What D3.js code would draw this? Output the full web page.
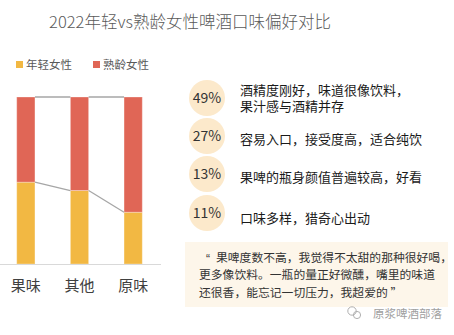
<!DOCTYPE html>
<html>
<head>
<meta charset="utf-8">
<script src="https://cdn.jsdelivr.net/npm/d3@7"></script>
<style>
  html, body { margin: 0; padding: 0; background: #fff; }
  svg { display: block; font-family: "Noto Sans CJK SC", "Noto Sans", sans-serif; }
</style>
</head>
<body>
<svg id="chart" width="454" height="335"></svg>
<script>
// Stacked 100% columns: share of young vs mature women by flavour
const categories = ["果味", "其他", "原味"];
const youngShare = [0.49, 0.44, 0.31];
const matureShare = [0.51, 0.56, 0.69];
const seriesNames = ["年轻女性", "熟龄女性"];
const seriesColors = ["#F2B843", "#E06656"];

// Reasons panel
const reasonPct = ["49%", "27%", "13%", "11%"];
const reasonLines = [
  ["酒精度刚好，味道很像饮料，", "果汁感与酒精并存"],
  ["容易入口，接受度高，适合纯饮"],
  ["果啤的瓶身颜值普遍较高，好看"],
  ["口味多样，猎奇心出动"]
];
const quoteOpen = "“";
const quoteLines = [
  "果啤度数不高，我觉得不太甜的那种很好喝，",
  "更多像饮料。一瓶的量正好微醺，嘴里的味道",
  "还很香，能忘记一切压力，我超爱的 ”"
];
const titleText = "2022年轻vs熟龄女性啤酒口味偏好对比";
const sourceText = "原浆啤酒部落";

const svg = d3.select("#chart");

// Title
svg.append("text")
  .attr("x", 190).attr("y", 28)
  .attr("text-anchor", "middle")
  .attr("font-size", 16.5)
  .attr("font-weight", 300)
  .attr("fill", "#595959")
  .text(titleText);

// Legend
const legend = svg.append("g");
const legendX = [16, 93];
seriesNames.forEach((name, i) => {
  legend.append("rect")
    .attr("x", legendX[i]).attr("y", 61)
    .attr("width", 7).attr("height", 7)
    .attr("fill", seriesColors[i]);
  legend.append("text")
    .attr("x", legendX[i] + 10).attr("y", 69)
    .attr("font-size", 11.5)
    .attr("fill", "#595959")
    .text(name);
});

// Scales
const x = d3.scaleBand()
  .domain(categories)
  .range([-1, 160])
  .paddingInner(0.66)
  .paddingOuter(0.33);
const y = d3.scaleLinear().domain([0, 1]).range([264, 97]);

const stackData = categories.map((c, i) => ({ cat: c, young: youngShare[i], mature: matureShare[i] }));
const stacked = d3.stack().keys(["young", "mature"])(stackData);

// Bars
const layers = svg.append("g").selectAll("g")
  .data(stacked).join("g")
  .attr("fill", (d, i) => seriesColors[i]);
layers.selectAll("rect")
  .data(d => d).join("rect")
  .attr("x", d => x(d.data.cat))
  .attr("y", d => y(d[1]))
  .attr("width", x.bandwidth())
  .attr("height", d => y(d[0]) - y(d[1]))
  .attr("stroke", "rgba(255,255,255,0.3)")
  .attr("stroke-width", 1);

// Series lines between bar tops
stacked.forEach(layer => {
  for (let i = 0; i < layer.length - 1; i++) {
    const a = layer[i], b = layer[i + 1];
    svg.append("line")
      .attr("x1", x(a.data.cat) + x.bandwidth())
      .attr("y1", y(a[1]))
      .attr("x2", x(b.data.cat))
      .attr("y2", y(b[1]))
      .attr("stroke", "#A6A6A6")
      .attr("stroke-width", 1.3);
  }
});

// Category axis
const xAxis = svg.append("g")
  .attr("transform", "translate(0,264)")
  .call(d3.axisBottom(x).tickSize(0).tickPadding(16));
xAxis.select(".domain").attr("stroke", "#D9D9D9").attr("d", "M0,0.5H161");
xAxis.selectAll("text")
  .attr("font-size", 15)
  .attr("fill", "#404040")
  .attr("font-family", "Noto Sans CJK SC, sans-serif");

// Reasons panel
const circleY = [98, 136, 174, 213];
const panel = svg.append("g");
reasonPct.forEach((p, i) => {
  panel.append("circle")
    .attr("cx", 207).attr("cy", circleY[i]).attr("r", 18)
    .attr("fill", "#FCE9CB");
  panel.append("text")
    .attr("x", 207).attr("y", circleY[i] + 5)
    .attr("text-anchor", "middle")
    .attr("font-size", 14)
    .attr("fill", "#333")
    .text(p);
  const lines = reasonLines[i];
  const lh = 16;
  const startY = circleY[i] + 4.5 - (lines.length - 1) * lh / 2 + (i === 0 ? 0 : 3) + (i === 3 ? 2 : 0);
  lines.forEach((t, j) => {
    panel.append("text")
      .attr("x", 240).attr("y", startY + j * lh)
      .attr("font-size", 13)
      .attr("fill", "#1a1a1a")
      .text(t);
  });
});

// Quote box
svg.append("rect")
  .attr("x", 185).attr("y", 242)
  .attr("width", 263).attr("height", 65)
  .attr("fill", "#FDF6EA");
svg.append("text")
  .attr("x", 206).attr("y", 263)
  .attr("font-size", 12)
  .attr("font-family", "Liberation Sans, sans-serif")
  .attr("fill", "#333")
  .text(quoteOpen);
const quoteX = [216, 199, 199];
quoteLines.forEach((t, i) => {
  svg.append("text")
    .attr("x", quoteX[i]).attr("y", 261.5 + i * 17.5)
    .attr("font-size", 11.8)
    .attr("fill", "#333")
    .text(t);
});

// Source mark
const mark = svg.append("g").attr("fill", "none").attr("stroke", "#B0B0B0").attr("stroke-width", 1);
mark.append("circle").attr("cx", 352).attr("cy", 311).attr("r", 4.2);
mark.append("circle").attr("cx", 357).attr("cy", 315).attr("r", 3.6);
svg.append("text")
  .attr("x", 373).attr("y", 317.5)
  .attr("font-size", 11.5)
  .attr("fill", "#A0A0A0")
  .text(sourceText);
</script>
</body>
</html>
